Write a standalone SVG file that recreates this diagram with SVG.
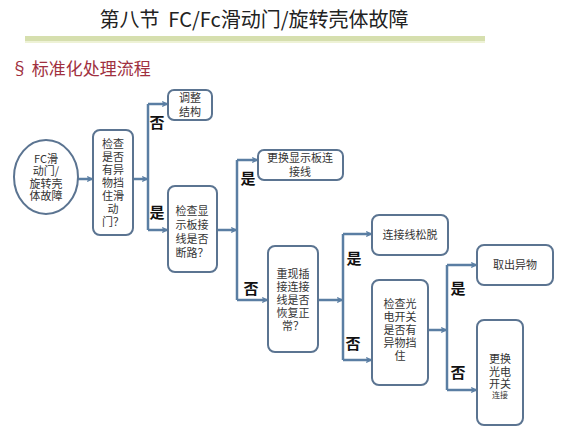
<svg xmlns="http://www.w3.org/2000/svg" width="580" height="428" viewBox="0 0 580 428">
<defs>
<marker id="ah" viewBox="0 0 10 10" refX="9" refY="5" markerWidth="6" markerHeight="6" orient="auto" markerUnits="userSpaceOnUse">
<path d="M1,1 L9,5 L1,9" fill="none" stroke="#5a7ea3" stroke-width="2"/>
</marker>
</defs>
<style>
.box{fill:#fff;stroke:#5b7491;stroke-width:2}
.t{font-family:"Noto Sans CJK SC","Liberation Sans",sans-serif;font-size:11px;fill:#333;text-anchor:middle}
.lb{font-family:"Noto Sans CJK SC","Liberation Sans",sans-serif;font-size:15px;font-weight:bold;fill:#111;text-anchor:middle}
.c{fill:none;stroke:#5a7ea3;stroke-width:2.5}
.a{fill:none;stroke:#5a7ea3;stroke-width:2.5;marker-end:url(#ah)}
</style>
<rect width="580" height="428" fill="#fff"/>
<text x="254" y="27" font-family="Noto Sans CJK SC, Liberation Sans, sans-serif" font-size="20" fill="#222" text-anchor="middle">第八节&#160;&#160;FC/Fc滑动门/旋转壳体故障</text>
<rect x="25" y="36" width="460" height="5" fill="#d6dfae"/>
<rect x="25" y="41" width="460" height="2" fill="#eef2d6"/>
<text x="11" y="75" font-family="Noto Sans CJK SC, Liberation Sans, sans-serif" font-size="17" fill="#a03040">§ 标准化处理流程</text>

<g id="connectors">
<path class="a" d="M78,179 H92"/>
<path class="a" d="M133,179 H147"/>
<path class="c" d="M148,104 V230"/>
<path class="a" d="M148,104 H167"/>
<path class="a" d="M148,230 H167"/>
<path class="a" d="M217,230 H236"/>
<path class="c" d="M237,160 V300"/>
<path class="a" d="M237,160 H257"/>
<path class="a" d="M237,300 H267"/>
<path class="a" d="M318,300 H342"/>
<path class="c" d="M343,234 V360"/>
<path class="a" d="M343,234 H371"/>
<path class="a" d="M343,360 H371"/>
<path class="a" d="M428,330 H446"/>
<path class="c" d="M447,265 V390"/>
<path class="a" d="M447,265 H476"/>
<path class="a" d="M447,390 H476"/>
</g>

<g id="labels">
<text class="lb" x="157" y="128">否</text>
<text class="lb" x="157" y="218">是</text>
<text class="lb" x="248" y="184">是</text>
<text class="lb" x="251" y="294">否</text>
<text class="lb" x="354" y="264">是</text>
<text class="lb" x="353" y="349">否</text>
<text class="lb" x="458" y="294">是</text>
<text class="lb" x="458" y="378">否</text>
</g>

<g id="start">
<ellipse class="box" cx="46" cy="177" rx="32" ry="37"/>
<text class="t" x="46" y="163"><tspan x="46">FC滑</tspan><tspan x="46" dy="12">动门/</tspan><tspan x="46" dy="13">旋转壳</tspan><tspan x="46" dy="12">体故障</tspan></text>
</g>

<g id="check1">
<rect class="box" x="93" y="130" width="40" height="105" rx="7"/>
<text class="t" x="113" y="148"><tspan x="113">检查</tspan><tspan x="113" dy="13">是否</tspan><tspan x="113" dy="13">有异</tspan><tspan x="113" dy="13">物挡</tspan><tspan x="113" dy="13">住滑</tspan><tspan x="113" dy="13">动</tspan><tspan x="113" dy="13">门？</tspan></text>
</g>

<g id="adjust">
<rect class="box" x="168" y="90" width="44" height="30" rx="6"/>
<text class="t" x="190" y="102"><tspan x="190">调整</tspan><tspan x="190" dy="14">结构</tspan></text>
</g>

<g id="check2">
<rect class="box" x="168" y="186" width="49" height="86" rx="7"/>
<text class="t" x="192" y="215"><tspan x="192">检查显</tspan><tspan x="192" dy="14">示板接</tspan><tspan x="192" dy="14">线是否</tspan><tspan x="192" dy="14">断路？</tspan></text>
</g>

<g id="replaceDisplay">
<rect class="box" x="258" y="150" width="85" height="30" rx="6"/>
<text class="t" x="300" y="162"><tspan x="300">更换显示板连</tspan><tspan x="300" dy="14">接线</tspan></text>
</g>

<g id="reinsert">
<rect class="box" x="268" y="246" width="50" height="106" rx="7"/>
<text class="t" x="293" y="278"><tspan x="293">重现插</tspan><tspan x="293" dy="13">接连接</tspan><tspan x="293" dy="13">线是否</tspan><tspan x="293" dy="13">恢复正</tspan><tspan x="293" dy="13">常？</tspan></text>
</g>

<g id="loose">
<rect class="box" x="372" y="215" width="76" height="40" rx="7"/>
<text class="t" x="410" y="239">连接线松脱</text>
</g>

<g id="check3">
<rect class="box" x="372" y="280" width="56" height="105" rx="7"/>
<text class="t" x="400" y="308"><tspan x="400">检查光</tspan><tspan x="400" dy="13">电开关</tspan><tspan x="400" dy="13">是否有</tspan><tspan x="400" dy="13">异物挡</tspan><tspan x="400" dy="13">住</tspan></text>
</g>

<g id="remove">
<rect class="box" x="477" y="245" width="76" height="40" rx="7"/>
<text class="t" x="515" y="269">取出异物</text>
</g>

<g id="replaceSensor">
<rect class="box" x="477" y="320" width="46" height="105" rx="7"/>
<text class="t" x="500" y="363"><tspan x="500">更换</tspan><tspan x="500" dy="13">光电</tspan><tspan x="500" dy="12">开关</tspan><tspan x="500" dy="10" style="font-size:8px">连接</tspan></text>
</g>
</svg>
